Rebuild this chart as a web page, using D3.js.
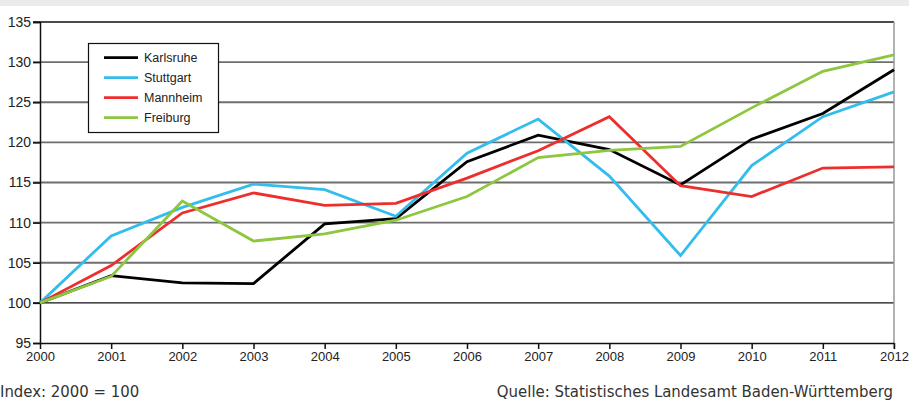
<!DOCTYPE html>
<html>
<head>
<meta charset="utf-8">
<script src="https://cdn.jsdelivr.net/npm/d3@7"></script>
<style>
  body { margin: 0; background: #fff; }
  svg { display: block; }
  .axis text { font-family: "Liberation Sans", Arial, sans-serif; fill: #222; }
  .foot { font-family: "DejaVu Sans Condensed", "Liberation Sans Narrow", sans-serif; fill: #333; }
</style>
</head>
<body>
<svg id="chart" width="909" height="405"></svg>
<script>
const years = [2000, 2001, 2002, 2003, 2004, 2005, 2006, 2007, 2008, 2009, 2010, 2011, 2012];
const karlsruhe = [100, 103.4, 102.5, 102.4, 109.85, 110.5, 117.6, 120.9, 119.1, 114.7, 120.4, 123.6, 129.05];
const stuttgart = [100, 108.35, 111.9, 114.8, 114.1, 110.8, 118.65, 122.9, 115.8, 105.9, 117.1, 123.2, 126.3];
const mannheim = [100, 104.65, 111.2, 113.7, 112.15, 112.4, 115.55, 118.95, 123.2, 114.6, 113.25, 116.8, 116.95];
const freiburg = [100, 103.3, 112.7, 107.7, 108.6, 110.3, 113.25, 118.1, 119.0, 119.5, 124.3, 128.85, 130.9];
const yTicks = [95, 100, 105, 110, 115, 120, 125, 130, 135];

const series = [
  { name: "Karlsruhe", values: karlsruhe, color: "#000000" },
  { name: "Stuttgart", values: stuttgart, color: "#33bdee" },
  { name: "Mannheim", values: mannheim, color: "#ee2e2c" },
  { name: "Freiburg", values: freiburg, color: "#8dc63f" },
];

const svg = d3.select("#chart");
const plot = { left: 40, right: 894, top: 22, bottom: 343 };

// top band
svg.append("rect").attr("x", 0).attr("y", 0).attr("width", 909).attr("height", 6).attr("fill", "#ebebeb");

const x = d3.scaleLinear().domain([2000, 2012]).range([plot.left, plot.right]);
const y = d3.scaleLinear().domain([95, 135]).range([plot.bottom, plot.top]);

// gridlines
svg.append("g")
  .selectAll("line")
  .data(yTicks.filter((d) => d > 95 && d < 135))
  .join("line")
  .attr("x1", plot.left - 7)
  .attr("x2", plot.right)
  .attr("y1", (d) => y(d))
  .attr("y2", (d) => y(d))
  .attr("stroke", (d) => (d === 100 ? "#111" : "#6e6e6e"))
  .attr("stroke-width", (d) => (d === 100 ? 1.2 : 1.8));

// top line and right border
svg.append("line").attr("x1", plot.left - 7).attr("x2", plot.right).attr("y1", y(135)).attr("y2", y(135))
  .attr("stroke", "#111").attr("stroke-width", 1.5);
svg.append("line").attr("x1", plot.right).attr("x2", plot.right).attr("y1", y(135)).attr("y2", plot.bottom + 6)
  .attr("stroke", "#999").attr("stroke-width", 1.5);

// axes
const yAxis = svg.append("g")
  .attr("class", "axis")
  .attr("transform", `translate(${plot.left},0)`)
  .call(d3.axisLeft(y).tickValues(yTicks).tickSize(7).tickPadding(2).tickFormat(d3.format("d")));
yAxis.selectAll("text").attr("font-size", 14);
yAxis.selectAll("line,path").attr("stroke", "#111").attr("stroke-width", 1.5);

const xAxis = svg.append("g")
  .attr("class", "axis")
  .attr("transform", `translate(0,${plot.bottom})`)
  .call(d3.axisBottom(x).tickValues(years).tickSize(6).tickPadding(3).tickFormat(d3.format("d")));
xAxis.selectAll("text").attr("font-size", 13);
xAxis.selectAll("line,path").attr("stroke", "#111").attr("stroke-width", 1.5);
xAxis.select(".domain").attr("d", `M${plot.left},0.5H${plot.right}`);

// lines
const line = d3.line().x((d, i) => x(years[i])).y((d) => y(d));
svg.append("g")
  .selectAll("path")
  .data(series)
  .join("path")
  .attr("d", (d) => line(d.values))
  .attr("fill", "none")
  .attr("stroke", (d) => d.color)
  .attr("stroke-width", 2.8)
  .attr("stroke-linejoin", "miter");

// legend
const legend = svg.append("g").attr("transform", "translate(88,43)");
legend.append("rect").attr("x", 0.5).attr("y", 0.5).attr("width", 130).attr("height", 89)
  .attr("fill", "#fff").attr("stroke", "#111").attr("stroke-width", 1.2);
const item = legend.selectAll("g.item")
  .data(series)
  .join("g")
  .attr("class", "item")
  .attr("transform", (d, i) => `translate(0,${14.7 + i * 20})`);
item.append("line").attr("x1", 16).attr("x2", 50).attr("stroke", (d) => d.color).attr("stroke-width", 2.8);
item.append("text")
  .attr("x", 56)
  .attr("y", 4.5)
  .attr("font-family", "Liberation Sans, Arial, sans-serif")
  .attr("font-size", 12.5)
  .attr("fill", "#222")
  .text((d) => d.name);

// footer
svg.append("text").attr("class", "foot").attr("x", 0).attr("y", 397).attr("font-size", 16.6)
  .text("Index: 2000 = 100");
svg.append("text").attr("class", "foot").attr("x", 893).attr("y", 397).attr("font-size", 16.6)
  .attr("text-anchor", "end")
  .text("Quelle: Statistisches Landesamt Baden-Württemberg");
</script>
</body>
</html>
